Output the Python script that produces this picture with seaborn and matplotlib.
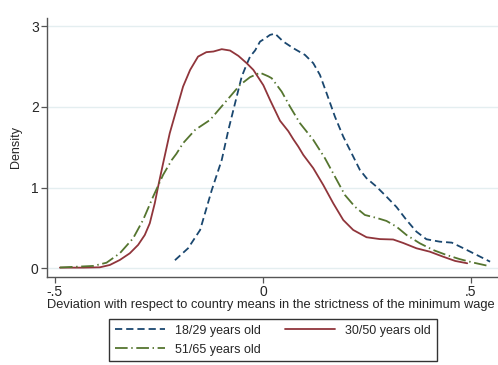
import numpy as np
import pandas as pd
import matplotlib
matplotlib.use("Agg")
import matplotlib.pyplot as plt
import seaborn as sns

# Kernel density estimates of the deviation in minimum-wage strictness, by age group
x_1829 = [-0.2115, -0.180, -0.151, -0.123, -0.099, -0.083, -0.067, -0.051, -0.039, -0.031,
          -0.019, -0.007, 0.005, 0.017, 0.029, 0.049, 0.073, 0.101, 0.121, 0.137,
          0.153, 0.173, 0.193, 0.213, 0.233, 0.249, 0.273, 0.297, 0.321, 0.345,
          0.369, 0.393, 0.425, 0.454, 0.482, 0.514, 0.546]
y_1829 = [0.10, 0.248, 0.475, 0.97, 1.344, 1.716, 2.047, 2.377, 2.53, 2.625,
          2.70, 2.811, 2.85, 2.894, 2.91, 2.811, 2.729, 2.646, 2.543, 2.398,
          2.171, 1.881, 1.633, 1.427, 1.22, 1.117, 1.012, 0.888, 0.76, 0.599,
          0.454, 0.36, 0.33, 0.318, 0.248, 0.165, 0.082]

x_3050 = [-0.488, -0.432, -0.392, -0.368, -0.344, -0.320, -0.300, -0.284, -0.272, -0.260,
          -0.252, -0.240, -0.224, -0.208, -0.192, -0.175, -0.156, -0.136, -0.119, -0.099,
          -0.079, -0.059, -0.039, -0.023, 0.001, 0.017, 0.041, 0.061, 0.073, 0.085,
          0.097, 0.121, 0.145, 0.169, 0.193, 0.217, 0.249, 0.281, 0.313, 0.337,
          0.369, 0.401, 0.433, 0.462, 0.491]
y_3050 = [0.008, 0.008, 0.012, 0.041, 0.103, 0.186, 0.29, 0.413, 0.558, 0.806,
          1.012, 1.30, 1.675, 1.964, 2.253, 2.46, 2.625, 2.68, 2.688, 2.717,
          2.70, 2.634, 2.543, 2.46, 2.27, 2.088, 1.83, 1.70, 1.60, 1.509,
          1.406, 1.241, 1.033, 0.806, 0.599, 0.475, 0.385, 0.362, 0.357, 0.314,
          0.248, 0.206, 0.144, 0.091, 0.062]

x_5165 = [-0.488, -0.408, -0.376, -0.344, -0.312, -0.288, -0.264, -0.240, -0.219, -0.208,
          -0.192, -0.163, -0.127, -0.103, -0.079, -0.055, -0.031, -0.007, 0.013, 0.021,
          0.045, 0.065, 0.089, 0.121, 0.149, 0.173, 0.197, 0.221, 0.245, 0.273,
          0.297, 0.321, 0.345, 0.377, 0.409, 0.441, 0.474, 0.506, 0.542]
y_5165 = [0.01, 0.029, 0.069, 0.186, 0.372, 0.60, 0.888, 1.158, 1.344, 1.42,
          1.551, 1.716, 1.84, 1.985, 2.129, 2.274, 2.37, 2.425, 2.38, 2.357,
          2.191, 2.005, 1.799, 1.592, 1.365, 1.137, 0.909, 0.764, 0.661, 0.625,
          0.587, 0.516, 0.413, 0.31, 0.227, 0.165, 0.112, 0.07, 0.029]

labels = ["18/29 years old", "30/50 years old", "51/65 years old"]
x_ticks = [-0.5, 0, 0.5]
x_ticklabels = ["-.5", "0", ".5"]
y_ticks = [0, 1, 2, 3]

sns.set_theme(style="white")
plt.rcParams["font.family"] = ["Liberation Sans", "DejaVu Sans"]

fig = plt.figure(figsize=(4.98, 3.65), dpi=100)
ax = fig.add_axes([0.0944, 0.242, 0.9056, 0.709])

series = [
    (x_1829, y_1829, labels[0], "#1a476f", (0, (4.0, 2.2))),
    (x_3050, y_3050, labels[1], "#90353b", "-"),
    (x_5165, y_5165, labels[2], "#55752f", (0, (7.0, 2.0, 0.8, 2.0))),
]
for xs, ys, lab, col, ls in series:
    df = pd.DataFrame({"x": xs, "y": ys})
    sns.lineplot(data=df, x="x", y="y", ax=ax, color=col, linestyle=ls,
                 linewidth=1.3, sort=False, label=lab, estimator=None)

ax.set_xlim(-0.519, 0.565)
ax.set_ylim(-0.104, 3.105)
ax.set_xticks(x_ticks)
ax.set_xticklabels(x_ticklabels)
ax.set_yticks(y_ticks)
ax.yaxis.grid(True, color="#e4eef0", linewidth=1.0)
ax.set_axisbelow(True)

for side in ["top", "right"]:
    ax.spines[side].set_visible(False)
for side in ["left", "bottom"]:
    ax.spines[side].set_color("#555555")
    ax.spines[side].set_linewidth(1.0)
ax.tick_params(axis="both", which="both", direction="out", length=4, width=0.9,
               color="#555555", labelsize=10, pad=2, left=True, bottom=True)

ax.set_xlabel("Deviation with respect to country means in the strictness of the minimum wage",
              fontsize=9.25, labelpad=0, loc="left")
ax.set_ylabel("Density", fontsize=9, labelpad=6)

h, l = ax.get_legend_handles_labels()
ax.get_legend().remove()
order = [0, 2, 1]
leg = fig.legend([h[i] for i in order], [l[i] for i in order], ncol=2,
                 loc="upper center", bbox_to_anchor=(0.548, 0.126),
                 fontsize=9, frameon=True, fancybox=False, edgecolor="black",
                 handlelength=4.0, handletextpad=0.8, columnspacing=2.0,
                 labelspacing=0.55, borderpad=0.45, borderaxespad=0)
leg.get_frame().set_linewidth(1.0)

fig.savefig("out.png", dpi=100)
